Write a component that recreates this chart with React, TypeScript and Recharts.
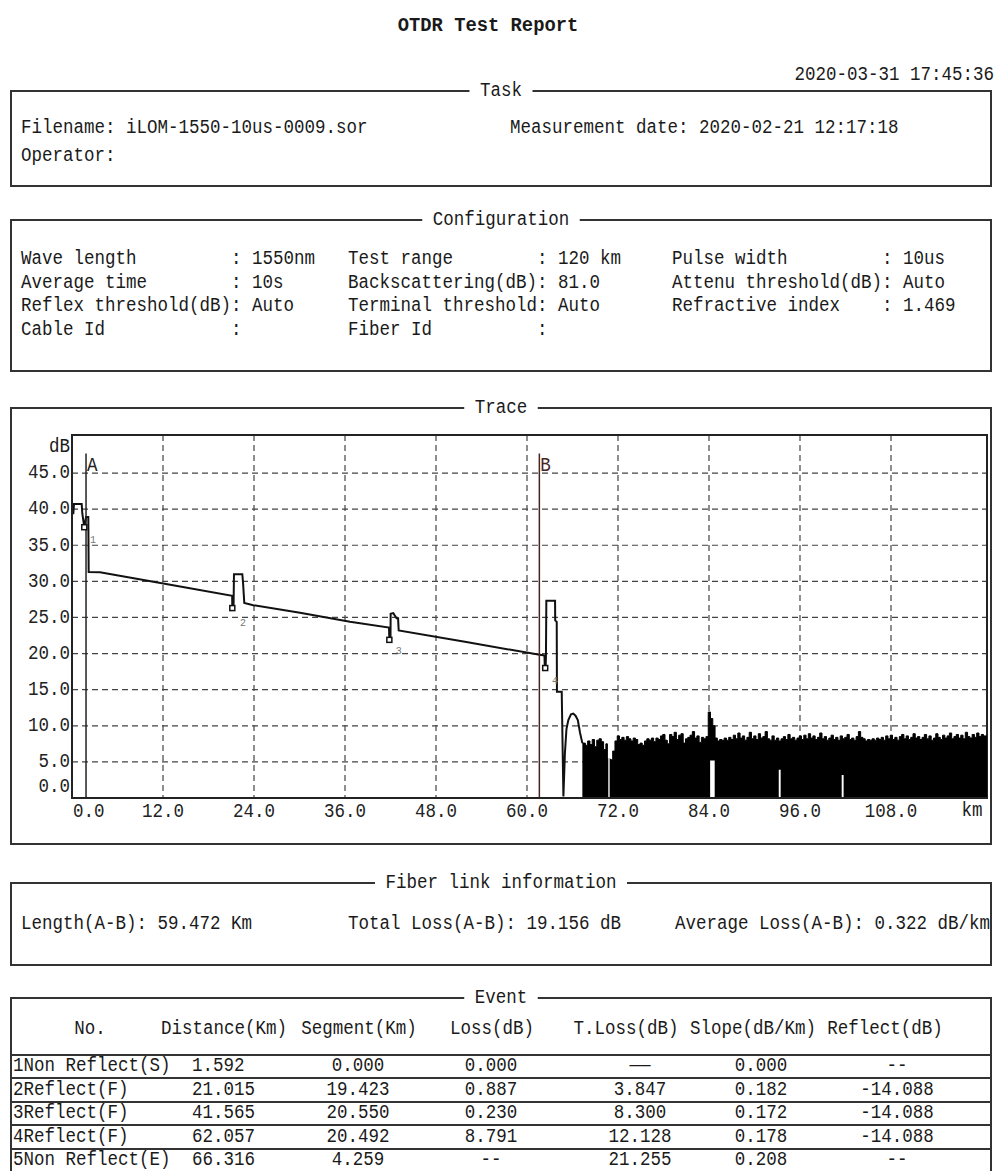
import React from 'react';
import {
  ComposedChart, Line, Area, Scatter, XAxis, YAxis, CartesianGrid,
  ReferenceLine, ReferenceArea,
} from 'recharts';

// ---------------- DATA ----------------
const reportTitle = 'OTDR Test Report';
const printDate = '2020-03-31 17:45:36';
const taskLines = ['Filename: iLOM-1550-10us-0009.sor', 'Operator:'];
const measurementDate = 'Measurement date: 2020-02-21 12:17:18';

const configCol1 = ['Wave length         : 1550nm', 'Average time        : 10s', 'Reflex threshold(dB): Auto', 'Cable Id            :'];
const configCol2 = ['Test range        : 120 km', 'Backscattering(dB): 81.0', 'Terminal threshold: Auto', 'Fiber Id          :'];
const configCol3 = ['Pulse width         : 10us', 'Attenu threshold(dB): Auto', 'Refractive index    : 1.469'];

const fiberInfo = ['Length(A-B): 59.472 Km', 'Total Loss(A-B): 19.156 dB', 'Average Loss(A-B): 0.322 dB/km'];

const tableHeaders = ['No.', 'Distance(Km)', 'Segment(Km)', 'Loss(dB)', 'T.Loss(dB)', 'Slope(dB/Km)', 'Reflect(dB)'];
const evNames = ['1Non Reflect(S)', '2Reflect(F)', '3Reflect(F)', '4Reflect(F)', '5Non Reflect(E)'];
const evDistance = ['1.592', '21.015', '41.565', '62.057', '66.316'];
const evSegment = ['0.000', '19.423', '20.550', '20.492', '4.259'];
const evLoss = ['0.000', '0.887', '0.230', '8.791', '--'];
const evTLoss = ['——', '3.847', '8.300', '12.128', '21.255'];
const evSlope = ['0.000', '0.182', '0.172', '0.178', '0.208'];
const evReflect = ['--', '-14.088', '-14.088', '-14.088', '--'];

const xTicks = [0, 12, 24, 36, 48, 60, 72, 84, 96, 108];
const yTicks = [0, 5, 10, 15, 20, 25, 30, 35, 40, 45];
const X_MAX = 120.66;
const Y_MAX = 50.27;

const traceKm = [0.17, 0.26, 1.28, 1.36, 1.62, 1.85, 2.15, 2.2, 3.69, 12.04, 21.12, 21.14, 21.3, 21.36, 22.46, 22.55, 22.72, 23.9, 30.07, 36.66, 41.8, 41.85, 42.0, 42.02, 42.37, 42.8, 43.0, 43.08, 52.0, 61.28, 62.3, 62.35, 62.45, 62.5, 62.55, 63.7, 63.72, 63.92, 63.95, 64.58, 64.8, 65.0, 65.2, 65.45, 65.8, 66.1, 66.4, 66.7, 67.0, 67.3];
const traceDb = [39.3, 40.7, 40.7, 39.4, 37.5, 38.9, 38.9, 31.3, 31.25, 29.7, 28.0, 26.3, 26.3, 31.0, 31.0, 29.9, 27.0, 26.7, 25.65, 24.4, 23.6, 21.9, 21.9, 25.5, 25.6, 24.9, 24.9, 23.2, 21.6, 19.9, 19.75, 18.0, 18.0, 19.6, 27.3, 27.3, 24.6, 24.4, 14.7, 14.7, 0.2, 6.2, 9.5, 10.8, 11.6, 11.7, 11.4, 10.8, 9.0, 7.6];

const noiseKm = [67.3, 67.7, 68.0, 68.3, 68.6, 68.9, 69.2, 69.5, 69.8, 70.1, 70.4, 70.6, 71.0, 71.3, 71.6, 71.9, 72.2, 72.5, 72.8, 73.1, 73.4, 73.7, 74.0, 74.3, 74.6, 74.9, 75.2, 75.5, 75.8, 76.1, 76.4, 76.7, 77.0, 77.3, 77.6, 77.9, 78.2, 78.5, 78.8, 79.1, 79.4, 79.7, 80.0, 80.3, 80.6, 80.9, 81.2, 81.5, 81.8, 82.1, 82.4, 82.7, 83.0, 83.3, 83.6, 83.9, 84.2, 84.5, 84.8, 85.1, 85.4, 85.7, 86.0, 86.3, 86.6, 86.9, 87.2, 87.5, 87.8, 88.1, 88.4, 88.7, 89.0, 89.3, 89.6, 89.9, 90.2, 90.5, 90.8, 91.1, 91.4, 91.7, 92.0, 92.3, 92.6, 92.9, 93.2, 93.5, 93.8, 94.1, 94.4, 94.7, 95.0, 95.3, 95.6, 95.9, 96.2, 96.5, 96.8, 97.1, 97.4, 97.7, 98.0, 98.3, 98.6, 98.9, 99.2, 99.5, 99.8, 100.1, 100.4, 100.7, 101.0, 101.3, 101.6, 101.9, 102.2, 102.5, 102.8, 103.1, 103.4, 103.7, 104.0, 104.3, 104.6, 104.9, 105.2, 105.5, 105.8, 106.1, 106.4, 106.7, 107.0, 107.3, 107.6, 107.9, 108.2, 108.5, 108.8, 109.1, 109.4, 109.7, 110.0, 110.3, 110.6, 110.9, 111.2, 111.5, 111.8, 112.1, 112.4, 112.7, 113.0, 113.3, 113.6, 113.9, 114.2, 114.5, 114.8, 115.1, 115.4, 115.7, 116.0, 116.3, 116.6, 116.9, 117.2, 117.5, 117.8, 118.1, 118.4, 118.7, 119.0, 119.3, 119.6, 119.9, 120.2, 120.66];
const noiseDb = [7.6, 7.3, 7.9, 7.4, 8.1, 7.1, 8.0, 8.2, 7.8, 6.7, 7.5, 5.4, 5.3, 6.5, 7.9, 8.6, 8.1, 8.4, 8.0, 8.5, 8.2, 7.9, 8.3, 8.1, 7.4, 7.6, 7.3, 7.9, 8.2, 8.0, 8.3, 7.8, 8.3, 8.1, 8.6, 8.8, 8.0, 7.5, 8.8, 8.5, 9.1, 8.1, 8.7, 8.9, 7.6, 8.2, 8.4, 8.7, 9.2, 8.3, 8.6, 7.7, 8.4, 8.2, 8.5, 11.9, 11.0, 10.0, 8.3, 7.9, 8.1, 8.0, 8.3, 8.0, 8.4, 8.1, 8.7, 8.2, 9.0, 8.3, 8.6, 8.0, 8.4, 9.1, 8.2, 8.6, 8.1, 8.9, 8.3, 8.5, 9.2, 8.2, 8.0, 8.6, 8.0, 8.3, 7.9, 8.2, 8.5, 8.1, 8.8, 8.2, 8.4, 8.0, 8.3, 8.6, 8.1, 8.7, 8.2, 8.9, 8.3, 8.6, 8.1, 8.4, 9.0, 8.2, 8.5, 8.0, 8.3, 8.7, 8.1, 8.4, 8.0, 8.6, 8.2, 8.4, 8.8, 8.1, 8.3, 8.0, 8.5, 9.2, 8.4, 8.2, 7.9, 8.1, 8.0, 8.2, 8.0, 8.3, 8.1, 8.4, 8.0, 8.6, 8.2, 8.7, 8.1, 8.4, 8.0, 8.5, 8.8, 8.2, 8.6, 8.1, 8.4, 8.9, 8.3, 8.5, 8.1, 8.4, 8.8, 8.2, 8.6, 8.0, 8.3, 8.9, 8.4, 8.1, 8.7, 8.3, 8.6, 9.0, 8.2, 8.5, 8.8, 8.3, 8.7, 8.2, 9.1, 8.5, 8.3, 8.8, 8.4, 9.0, 8.5, 8.8, 8.6, 8.6];

const gapStartKm = [70.72, 84.15, 93.2, 101.5];
const gapEndKm = [70.9, 84.75, 93.45, 101.75];
const gapTopDb = [5.5, 5.2, 3.9, 3.2];

const eventKm = [1.62, 21.14, 41.85, 62.4];
const eventDb = [37.5, 26.3, 21.9, 18.0];
const eventNo = ['1', '2', '3', '4'];
const eventNoKm = [2.77, 22.55, 43.1, 63.7];
const eventNoDb = [35.7, 24.2, 20.3, 16.2];

const markerNames = ['A', 'B'];
const markerKm = [1.85, 61.63];
const markerTopDb = 47.7;
const markerColors = ['#222', '#4a2424'];

// ---------------- HELPERS ----------------
const FONT = "'Liberation Mono', 'DejaVu Sans Mono', monospace";
const SX = 0.875;
const INK = '#1a1a1a';

type TProps = { x: number; y: number; text: string; anchor?: 'start' | 'middle' | 'end'; bold?: boolean; size?: number; sx?: number; bg?: string; color?: string };
function T({ x, y, text, anchor = 'start', bold = false, size = 20, sx = SX, bg, color = INK }: TProps) {
  const tx = anchor === 'start' ? '0' : anchor === 'middle' ? '-50%' : '-100%';
  const origin = anchor === 'start' ? 'left center' : anchor === 'middle' ? 'center center' : 'right center';
  return (
    <div style={{
      position: 'absolute', left: x, top: y, transform: `translate(${tx}, -50%) scaleX(${sx})`,
      transformOrigin: origin, whiteSpace: 'pre', fontFamily: FONT, fontSize: size, lineHeight: '16px',
      fontWeight: bold ? 700 : 400, color, background: bg, padding: bg ? '2px 12px' : 0,
    }}>{text}</div>
  );
}

const BOX_L = 11;
const BOX_R = 991;
function Box({ t, b, title }: { t: number; b: number; title: string }) {
  return (
    <>
      <div style={{ position: 'absolute', left: BOX_L - 1, top: t - 1, width: BOX_R - BOX_L + 2, height: b - t + 2, border: '2px solid #333', boxSizing: 'border-box' }} />
      <T x={501} y={t} text={title} anchor="middle" bg="#fff" />
    </>
  );
}
function HLine({ y }: { y: number }) {
  return <div style={{ position: 'absolute', left: BOX_L, top: y - 1, width: BOX_R - BOX_L, height: 2, background: '#333' }} />;
}

const YTick = (p: any) => {
  const v = p.payload.value as number;
  const dy = v === 0 ? -11 : 0;
  return (
    <g transform={`translate(${p.x},${p.y + dy})`}>
      <text transform={`scale(${SX},1)`} textAnchor="end" dominantBaseline="central" fontFamily={FONT} fontSize={20} fill="#222">{v.toFixed(1)}</text>
    </g>
  );
};
const XTick = (p: any) => {
  const v = p.payload.value as number;
  const first = v === 0;
  return (
    <g transform={`translate(${first ? p.x + 1 : p.x},${p.y + 14})`}>
      <text transform={`scale(${SX},1)`} textAnchor={first ? 'start' : 'middle'} dominantBaseline="central" fontFamily={FONT} fontSize={20} fill="#222">{v.toFixed(1)}</text>
    </g>
  );
};

// ---------------- CHART DATA ----------------
const traceData = traceKm.map((km, i) => ({ km, db: traceDb[i] }));
const noiseData = noiseKm.map((km, i) => ({ km, db: noiseDb[i] }));
const gapData = gapStartKm.flatMap((s, i) => [
  { km: s, db: 0 }, { km: s, db: gapTopDb[i] }, { km: gapEndKm[i], db: gapTopDb[i] }, { km: gapEndKm[i], db: 0 },
]);
const eventData = eventKm.map((km, i) => ({ km, db: eventDb[i] }));
const eventNoData = eventNoKm.map((km, i) => ({ km, db: eventNoDb[i], label: eventNo[i] }));
const markerData = markerKm.map((km, i) => ({ km, db: markerTopDb, label: markerNames[i], color: markerColors[i] }));

const CHART_TOP = 420;

function TraceChart() {
  return (
    <div style={{ position: 'absolute', left: 0, top: CHART_TOP, width: 996, height: 420 }}>
      <ComposedChart width={996} height={420} margin={{ top: 15, right: 9, bottom: 12, left: 10 }}>
        <CartesianGrid stroke="#444" strokeDasharray="6 4" strokeWidth={1.2} />
        <XAxis dataKey="km" type="number" domain={[0, X_MAX]} ticks={xTicks} interval={0} allowDataOverflow
          tick={(p: any) => <XTick {...p} />} tickSize={0} tickMargin={0} height={30}
          axisLine={{ stroke: '#222', strokeWidth: 2 }} />
        <YAxis type="number" domain={[0, Y_MAX]} ticks={yTicks} interval={0} allowDataOverflow
          tick={(p: any) => <YTick {...p} />} tickSize={0} tickMargin={2} width={62}
          axisLine={{ stroke: '#222', strokeWidth: 2 }} />
        <ReferenceArea x1={0} x2={X_MAX} y1={0} y2={Y_MAX} fill="none" fillOpacity={0} stroke="#222" strokeWidth={2} />
        <Area data={noiseData} dataKey="db" type="stepAfter" fill="#000" fillOpacity={1} stroke="#000" strokeWidth={1} dot={false} activeDot={false} isAnimationActive={false} />
        <Area data={gapData} dataKey="db" type="linear" fill="#fff" fillOpacity={1} stroke="none" dot={false} activeDot={false} isAnimationActive={false} />
        <Line data={traceData} dataKey="db" type="linear" stroke="#111" strokeWidth={2} dot={false} activeDot={false} isAnimationActive={false} />
        {markerKm.map((km, i) => (
          <ReferenceLine key={markerNames[i]} segment={[{ x: km, y: 0 }, { x: km, y: markerTopDb }]} stroke={markerColors[i]} strokeWidth={1.5} />
        ))}
        <Scatter data={eventData} dataKey="db" isAnimationActive={false}
          shape={(p: any) => <rect x={p.cx - 2.5} y={p.cy - 2.5} width={5} height={5} fill="#fff" stroke="#111" strokeWidth={1.5} />} />
        <Scatter data={eventNoData} dataKey="db" isAnimationActive={false}
          shape={(p: any) => <text x={p.cx} y={p.cy} textAnchor="middle" dominantBaseline="central" fontFamily={FONT} fontSize={10} fill="#777">{p.payload.label}</text>} />
        <Scatter data={markerData} dataKey="db" isAnimationActive={false}
          shape={(p: any) => (
            <g transform={`translate(${p.cx + 1},${p.cy + 12})`}>
              <text transform={`scale(${SX},1)`} textAnchor="start" dominantBaseline="central" fontFamily={FONT} fontSize={20} fill={p.payload.color}>{p.payload.label}</text>
            </g>
          )} />
      </ComposedChart>
    </div>
  );
}

// ---------------- LAYOUT ----------------
const configRowsY = [259, 283, 306, 330];
const headerX = [90, 224, 359, 492, 626, 753, 885];
const rowLinesY = [1055, 1078, 1101.5, 1125, 1148.5];
const rowTextY = [1066, 1089.5, 1113, 1136.5, 1160];

export default function App() {
  return (
    <div style={{ position: 'absolute', left: 0, top: 0, width: 996, height: 1171, background: '#fff', overflow: 'hidden' }}>
      <T x={488} y={26} text={reportTitle} anchor="middle" bold sx={0.94} />
      <T x={994} y={75} text={printDate} anchor="end" />

      <Box t={91} b={186} title="Task" />
      <T x={20.7} y={128} text={taskLines[0]} />
      <T x={510} y={128} text={measurementDate} />
      <T x={20.7} y={156} text={taskLines[1]} />

      <Box t={220} b={371} title="Configuration" />
      {configCol1.map((s, i) => <T key={'c1' + i} x={20.7} y={configRowsY[i]} text={s} />)}
      {configCol2.map((s, i) => <T key={'c2' + i} x={348} y={configRowsY[i]} text={s} />)}
      {configCol3.map((s, i) => <T key={'c3' + i} x={672} y={configRowsY[i]} text={s} />)}

      <Box t={408} b={844} title="Trace" />
      <TraceChart />
      <T x={70} y={447} text="dB" anchor="end" />
      <T x={971.5} y={811} text="km" anchor="middle" />

      <Box t={883} b={965} title="Fiber link information" />
      <T x={20.7} y={924} text={fiberInfo[0]} />
      <T x={348} y={924} text={fiberInfo[1]} />
      <T x={675} y={924} text={fiberInfo[2]} />

      <Box t={998} b={1200} title="Event" />
      {tableHeaders.map((h, i) => <T key={'h' + i} x={headerX[i]} y={1029} text={h} anchor="middle" />)}
      {rowLinesY.map((y) => <HLine key={'l' + y} y={y} />)}
      {evNames.map((s, i) => (
        <React.Fragment key={'r' + i}>
          <T x={13} y={rowTextY[i]} text={s} />
          <T x={192} y={rowTextY[i]} text={evDistance[i]} />
          <T x={358} y={rowTextY[i]} text={evSegment[i]} anchor="middle" />
          <T x={491} y={rowTextY[i]} text={evLoss[i]} anchor="middle" />
          <T x={640} y={rowTextY[i]} text={evTLoss[i]} anchor="middle" />
          <T x={761} y={rowTextY[i]} text={evSlope[i]} anchor="middle" />
          <T x={897} y={rowTextY[i]} text={evReflect[i]} anchor="middle" />
        </React.Fragment>
      ))}
    </div>
  );
}
